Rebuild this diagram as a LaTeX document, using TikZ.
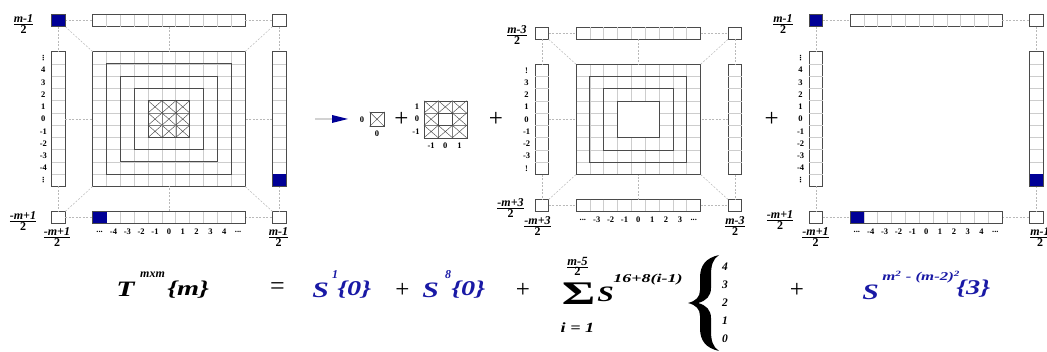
\documentclass[tikz,border=0pt]{standalone}
\usepackage{fontspec}
\setmainfont{Liberation Serif}
\newfontfamily\djv{DejaVu Sans}
\usetikzlibrary{calc}
\definecolor{navy}{RGB}{0,0,150}
\definecolor{fblue}{RGB}{25,25,165}
\definecolor{lgrid}{RGB}{205,205,205}
\definecolor{dline}{RGB}{75,75,75}
\newcommand{\fr}[2]{$\frac{\mbox{\bfseries\itshape #1}}{\mbox{\bfseries #2}}$}
\newcommand{\ddd}{...}
\newcommand{\vd}{{\djv\fontsize{7}{7}\selectfont ⋮}}
% frame of bars: #1 prefix, #2 gx, #3 gy, #4 N, #5 left labels, #6 bottom labels
\newcommand{\myframe}[6]{%
  \pgfmathsetmacro{\W}{#4*13.85}%
  \pgfmathsetmacro{\H}{#4*12.25}%
  \pgfmathsetmacro{\xl}{#2-27.4}%
  \pgfmathsetmacro{\xr}{#2+\W+27.4}%
  \pgfmathsetmacro{\yt}{#3-25}%
  \pgfmathsetmacro{\yb}{#3+\H+25}%
  \pgfmathtruncatemacro{\Nm}{#4-1}%
  \node[barbox, minimum width=\W pt, anchor=south west] (#1t) at (#2,\yt) {};
  \node[barbox, minimum width=\W pt, anchor=north west] (#1b) at (#2,\yb) {};
  \node[barbox, minimum height=\H pt, anchor=north east] (#1l) at (\xl,#3) {};
  \node[barbox, minimum height=\H pt, anchor=north west] (#1r) at (\xr,#3) {};
  \node[barbox, anchor=south east] (#1tl) at (\xl,\yt) {};
  \node[barbox, anchor=south west] (#1tr) at (\xr,\yt) {};
  \node[barbox, anchor=north east] (#1bl) at (\xl,\yb) {};
  \node[barbox, anchor=north west] (#1br) at (\xr,\yb) {};
  \foreach \i in {1,...,\Nm}{
    \draw[gline] ($(#1t.north west)+(\i*13.85,0)$) -- ($(#1t.south west)+(\i*13.85,0)$);
    \draw[gline] ($(#1b.north west)+(\i*13.85,0)$) -- ($(#1b.south west)+(\i*13.85,0)$);
    \draw[gline] ($(#1l.north west)+(0,\i*12.25)$) -- ($(#1l.north east)+(0,\i*12.25)$);
    \draw[gline] ($(#1r.north west)+(0,\i*12.25)$) -- ($(#1r.north east)+(0,\i*12.25)$);
  }
  \draw[conn] (#1tl.east) -- (#1t.west);
  \draw[conn] (#1t.east) -- (#1tr.west);
  \draw[conn] (#1bl.east) -- (#1b.west);
  \draw[conn] (#1b.east) -- (#1br.west);
  \draw[conn] (#1tl.south) -- (#1l.north);
  \draw[conn] (#1l.south) -- (#1bl.north);
  \draw[conn] (#1tr.south) -- (#1r.north);
  \draw[conn] (#1r.south) -- (#1br.north);
  \foreach \lbl [count=\k] in {#5}{
    \node[lab] (#1ll\k) at (\xl-22, #3+\k*12.25-6.125) {\lbl};
  }
  \foreach \lbl [count=\k] in {#6}{
    \node[lab] (#1bl\k) at (#2+\k*13.85-6.925, \yb+20) {\lbl};
  }
}
% grid: #1 prefix, #2 gx, #3 gy, #4 N
\newcommand{\mygrid}[4]{%
  \pgfmathsetmacro{\W}{#4*13.85}%
  \pgfmathsetmacro{\H}{#4*12.25}%
  \pgfmathtruncatemacro{\Nm}{#4-1}%
  \foreach \i in {1,...,\Nm}{
    \draw[gline] (#2+\i*13.85,#3) -- ++(0,\H);
    \draw[gline] (#2,#3+\i*12.25) -- ++(\W,0);
  }
  \node[gridbox, minimum width=\W pt, minimum height=\H pt, anchor=north west] (#1g) at (#2,#3) {};
  \draw[conn] (#1t.south) -- (#1g.north);
  \draw[conn] (#1b.north) -- (#1g.south);
  \draw[conn] (#1l.east) -- (#1g.west);
  \draw[conn] (#1r.west) -- (#1g.east);
  \draw[conn] (#1tl.south east) -- (#1g.north west);
  \draw[conn] (#1tr.south west) -- (#1g.north east);
  \draw[conn] (#1bl.north east) -- (#1g.south west);
  \draw[conn] (#1br.north west) -- (#1g.south east);
}
\begin{document}
\begin{tikzpicture}[x=1pt,y=-1pt,
  barbox/.style={draw=dline, line width=0.9pt, inner sep=0pt, outer sep=0pt, minimum width=13.6pt, minimum height=11.9pt},
  gridbox/.style={draw=dline, line width=0.9pt, inner sep=0pt, outer sep=0pt},
  gline/.style={draw=lgrid, line width=0.7pt},
  sqline/.style={draw=dline, line width=0.9pt},
  xline/.style={draw=dline, line width=0.45pt},
  conn/.style={draw=gray!55, line width=0.5pt, dash pattern=on 2pt off 1.5pt},
  lab/.style={font=\fontsize{8.5}{8.5}\selectfont\bfseries, inner sep=0pt},
  flab/.style={font=\fontsize{12}{12}\selectfont, inner sep=0pt},
  fbig/.style={font=\fontsize{22}{22}\selectfont\bfseries\itshape, inner sep=0pt, xscale=1.35},
  fmid/.style={font=\fontsize{21}{21}\selectfont\bfseries\itshape, inner sep=0pt, xscale=1.35},
  fsup/.style={font=\fontsize{12}{12}\selectfont\bfseries\itshape, inner sep=0pt},
  fnum/.style={font=\fontsize{11.5}{11.5}\selectfont\bfseries\itshape, inner sep=0pt},
  plus/.style={font=\fontsize{25}{25}\selectfont, inner sep=0pt}]
\useasboundingbox (0,0) rectangle (1047,352);

% ---------- left structure ----------
\myframe{L}{92.7}{51.7}{11}{\vd,4,3,2,1,0,-1,-2,-3,-4,\vd}{\ddd,-4,-3,-2,-1,0,1,2,3,4,\ddd}
\mygrid{L}{92.7}{51.7}{11}
\foreach \k in {1,2,3}{
  \draw[sqline] (92.7+\k*13.85,51.7+\k*12.25) rectangle (245.05-\k*13.85,186.45-\k*12.25);
}
\foreach \i in {0,1,2}{
  \draw[draw=gray, line width=0.5pt] (148.1+\i*13.85,100.7) -- ++(0,36.75);
  \draw[draw=gray, line width=0.5pt] (148.1,100.7+\i*12.25) -- ++(41.55,0);
  \foreach \j in {0,1,2}{
    \draw[xline] (148.1+\i*13.85,100.7+\j*12.25) -- ++(13.85,12.25) ++(0,-12.25) -- ++(-13.85,12.25);
  }
}
\draw[sqline] (148.1,100.7) rectangle (189.65,137.45);
\fill[navy] (Ltl.north west) rectangle (Ltl.south east);
\fill[navy] (Lb.north west) rectangle ($(Lb.south west)+(13.85,0)$);
\fill[navy] ($(Lr.south west)+(0,-12.25)$) rectangle (Lr.south east);
\draw[dline, line width=0.9pt] (Ltl.north west) rectangle (Ltl.south east);
\draw[dline, line width=0.9pt] (Lb.north west) rectangle (Lb.south east);
\draw[dline, line width=0.9pt] (Lr.north west) rectangle (Lr.south east);
\node[flab] (Lf1) at (23.5,24) {\fr{m-1}{2}};
\node[flab] (Lf2) at (23,221) {\fr{-m+1}{2}};
\node[flab] (Lf3) at (57,237) {\fr{-m+1}{2}};
\node[flab] (Lf4) at (278.5,237) {\fr{m-1}{2}};

% ---------- arrow and small pieces ----------
\coordinate (arS) at (315,119);
\coordinate (arM) at (333,119);
\draw[gray, line width=0.6pt, double=gray!35, double distance=1.4pt] (arS) -- (arM);
\fill[navy] (332,115) -- (348,119) -- (332,123) -- cycle;
\node[lab] (z0l) at (362,119.5) {0};
\node[draw=dline, line width=0.9pt, inner sep=0pt, minimum width=14pt, minimum height=13.7pt] (sq0) at (377,119.2) {};
\draw[xline] (sq0.north west) -- (sq0.south east) (sq0.north east) -- (sq0.south west);
\node[lab] (z0b) at (377,134) {0};
\node[plus] (pA) at (401.5,119.5) {+};
\node[draw=dline, line width=0.9pt, inner sep=0pt, minimum width=42.6pt, minimum height=37pt, anchor=north west] (s3) at (424,100.7) {};
\foreach \i in {1,2}{
  \draw[draw=gray, line width=0.5pt] (424+\i*14.2,100.7) -- ++(0,37);
  \draw[draw=gray, line width=0.5pt] (424,100.7+\i*12.333) -- ++(42.6,0);
}
\foreach \i/\j in {0/0,1/0,2/0,0/1,2/1,0/2,1/2,2/2}{
  \draw[xline] (424+\i*14.2,100.7+\j*12.333) -- ++(14.2,12.333) ++(0,-12.333) -- ++(-14.2,12.333);
}
\draw[sqline] (438.2,113.033) rectangle (452.4,125.367);
\node[lab] (s3l1) at (417,106.9) {1};
\node[lab] (s3l2) at (417,119.2) {0};
\node[lab] (s3l3) at (416,131.5) {-1};
\node[lab] (s3b1) at (431.1,146) {-1};
\node[lab] (s3b2) at (445.3,146) {0};
\node[lab] (s3b3) at (459.5,146) {1};
\node[plus] (pB) at (496,119.5) {+};

% ---------- middle structure ----------
\myframe{M}{576}{64.3}{9}{!,3,2,1,0,-1,-2,-3,!}{\ddd,-3,-2,-1,0,1,2,3,\ddd}
\mygrid{M}{576}{64.3}{9}
\foreach \k in {1,2}{
  \draw[sqline] (576+\k*13.85,64.3+\k*12.25) rectangle (700.65-\k*13.85,174.55-\k*12.25);
}
\draw[sqline, fill=white] (617.55,101.05) rectangle (659.1,137.8);
\node[flab] (Mf1) at (517,35) {\fr{m-3}{2}};
\node[flab] (Mf2) at (510.5,208) {\fr{-m+3}{2}};
\node[flab] (Mf3) at (537.5,226) {\fr{-m+3}{2}};
\node[flab] (Mf4) at (735,226) {\fr{m-3}{2}};
\node[plus] (pC) at (771.7,119.5) {+};

% ---------- right structure ----------
\myframe{R}{850}{51.7}{11}{\vd,4,3,2,1,0,-1,-2,-3,-4,\vd}{\ddd,-4,-3,-2,-1,0,1,2,3,4,\ddd}
\fill[navy] (Rtl.north west) rectangle (Rtl.south east);
\fill[navy] (Rb.north west) rectangle ($(Rb.south west)+(13.85,0)$);
\fill[navy] ($(Rr.south west)+(0,-12.25)$) rectangle (Rr.south east);
\draw[dline, line width=0.9pt] (Rtl.north west) rectangle (Rtl.south east);
\draw[dline, line width=0.9pt] (Rb.north west) rectangle (Rb.south east);
\draw[dline, line width=0.9pt] (Rr.north west) rectangle (Rr.south east);
\node[flab] (Rf1) at (783,24) {\fr{m-1}{2}};
\node[flab] (Rf2) at (780,220) {\fr{-m+1}{2}};
\node[flab] (Rf3) at (815.5,237) {\fr{-m+1}{2}};
\node[flab] (Rf4) at (1040,237) {\fr{m-1}{2}};

% ---------- formula ----------
\node[fbig, anchor=base west] (T) at (116,297) {T};
\node[fsup, anchor=base west] (Tsup) at (140,278) {mxm};
\node[fmid, anchor=base west] (Targ) at (167,296) {\{m\}};
\node[font=\fontsize{26}{26}\selectfont, inner sep=0pt] (eq) at (277.5,289) {=};
\node[fbig, text=fblue, anchor=base west] (S1) at (312,298) {S};
\node[fsup, text=fblue, anchor=base west] (S1sup) at (332,279) {1};
\node[fmid, text=fblue, anchor=base west] (S1arg) at (337,296) {\{0\}};
\node[plus] (p1) at (402.5,290) {+};
\node[fbig, text=fblue, anchor=base west] (S8) at (422,298) {S};
\node[fsup, text=fblue, anchor=base west] (S8sup) at (445,279) {8};
\node[fmid, text=fblue, anchor=base west] (S8arg) at (451,296) {\{0\}};
\node[plus] (p2) at (523,290) {+};
\node[font=\fontsize{33}{33}\selectfont\bfseries, inner sep=0pt, xscale=1.55, anchor=base] (sig) at (578.5,305) {Σ};
\node[font=\fontsize{12.5}{12.5}\selectfont, inner sep=0pt] (sigtop) at (577.5,266.5) {\fr{m-5}{2}};
\node[font=\fontsize{14}{14}\selectfont\bfseries\itshape, inner sep=0pt, xscale=1.3, anchor=base] (sigbot) at (577.5,333) {i = 1};
\node[fbig, anchor=base west] (Ssum) at (597,302) {S};
\node[fsup, anchor=base west, xscale=1.5] (Ssumsup) at (613,283) {16+8(i-1)};
\fill (719,255) .. controls (706,258) and (700,265) .. (700,278) -- (700,290)
  .. controls (700,297) and (696,301) .. (688,303)
  .. controls (696,305) and (700,309) .. (700,316) -- (700,328)
  .. controls (700,341) and (706,348) .. (719,351)
  .. controls (713,347) and (711,341) .. (711,331) -- (711,318)
  .. controls (711,310) and (706,305) .. (698,303)
  .. controls (706,301) and (711,296) .. (711,288) -- (711,275)
  .. controls (711,265) and (713,259) .. (719,255) -- cycle;
\node[fnum, anchor=base] (c4) at (725,271) {4};
\node[fnum, anchor=base] (c3) at (725,289) {3};
\node[fnum, anchor=base] (c2) at (725,307) {2};
\node[fnum, anchor=base] (c1) at (725,325) {1};
\node[fnum, anchor=base] (c0) at (725,343) {0};
\node[plus] (p3) at (797,290) {+};
\node[fbig, text=fblue, anchor=base west] (Sl) at (862,300) {S};
\node[fsup, text=fblue, anchor=base west, xscale=1.4] (Slsup) at (882,281) {m\textsuperscript{2} - (m-2)\textsuperscript{2}};
\node[fmid, text=fblue, anchor=base west] (Slarg) at (956,295) {\{3\}};
\end{tikzpicture}
\end{document}
